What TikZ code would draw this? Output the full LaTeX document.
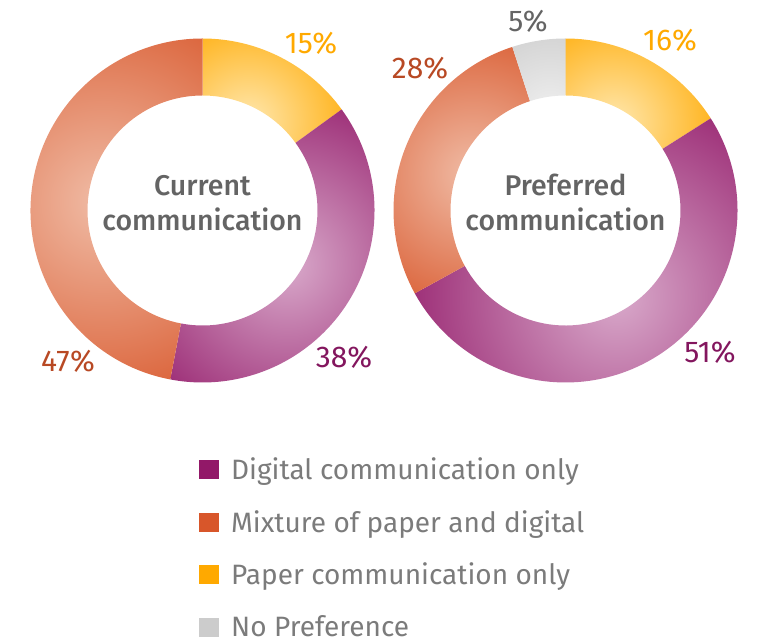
\documentclass[tikz,border=0pt]{standalone}
\usepackage{fontspec}
\setmainfont{Fira Sans}
\IfFontExistsTF{Fira Sans Medium}{\newfontfamily\titlefont{Fira Sans Medium}}{\newfontfamily\titlefont{Fira Sans}}
\usetikzlibrary{calc}

\definecolor{digital}{HTML}{921868}
\definecolor{digitallt}{HTML}{D9AACB}
\definecolor{mixed}{HTML}{D8562A}
\definecolor{mixedlt}{HTML}{F0BCA6}
\definecolor{paper}{HTML}{FFA900}
\definecolor{paperlt}{HTML}{FFE8B0}
\definecolor{nopref}{HTML}{CCCCCC}
\definecolor{nopreflt}{HTML}{EFEFEF}
\definecolor{txtgrey}{HTML}{646464}

% one shaded piece of a ring: centre, start angle, end angle, light, dark, gradient radius
\newcommand{\ringpart}[6]{%
  \begin{scope}
    \clip ($(#1)+(#2:172)$) arc[start angle=#2, end angle=#3, radius=172]
      -- ($(#1)+(#3:115)$) arc[start angle=#3, end angle=#2, radius=115] -- cycle;
    \shade[inner color=#4, outer color=#5] ($(#1)+({(#2+#3)/2}:100)$) circle (#6);
  \end{scope}}

\tikzset{
  pct/.style={anchor=base, font=\fontsize{30}{32}\selectfont},
  title/.style={anchor=base, text=txtgrey, font=\titlefont\fontsize{28.5}{34}\selectfont},
  keybox/.style={minimum width=20, minimum height=19, inner sep=0pt},
  keytext/.style={anchor=base west, inner sep=0pt, text=txtgrey!85!white, font=\fontsize{28}{30}\selectfont}
}

\begin{document}
\begin{tikzpicture}[x=1pt,y=1pt]
    \useasboundingbox (0,0) rectangle (764,640);
    \coordinate (cur) at (202.5,429.5);
    \coordinate (pref) at (565.5,429.5);

    % current
    \ringpart{cur}{90}{36}{paperlt}{paper}{120}
    \ringpart{cur}{36}{-100.8}{digitallt}{digital}{200}
    \ringpart{cur}{-100.8}{-270}{mixedlt}{mixed}{230}
    \node[title] (cur1) at (202.5,444) {Current};
    \node[title] (cur2) at (202.5,409) {communication};
    \node[pct, text=paper] (curpaper) at (311,586) {15\%};
    \node[pct, text=digital!90!black] (curdig) at (344,272) {38\%};
    \node[pct, text=mixed!85!black] (curmix) at (68,268) {47\%};

    % preferred
    \ringpart{pref}{90}{32.4}{paperlt}{paper}{122}
    \ringpart{pref}{32.4}{-151.2}{digitallt}{digital}{245}
    \ringpart{pref}{-151.2}{-252}{mixedlt}{mixed}{165}
    \ringpart{pref}{-252}{-270}{nopreflt}{nopref}{100}
    \node[title] (pref1) at (565.5,444) {Preferred};
    \node[title] (pref2) at (565.5,409) {communication};
    \node[pct, text=paper] (prefpaper) at (670,589) {16\%};
    \node[pct, text=digital!90!black] (prefdig) at (710,277) {51\%};
    \node[pct, text=mixed!85!black] (prefmix) at (420,561) {28\%};
    \node[pct, text=txtgrey] (prefnone) at (528,608) {5\%};

    % key
    \node[keybox, fill=digital] (kdig) at (209,170) {};
    \node[keytext] (tdig) at (231,160) {Digital communication only};
    \node[keybox, fill=mixed] (kmix) at (209,117) {};
    \node[keytext] (tmix) at (231,107) {Mixture of paper and digital};
    \node[keybox, fill=paper] (kpap) at (209,65) {};
    \node[keytext] (tpap) at (231,55) {Paper communication only};
    \node[keybox, fill=nopref] (knone) at (209,12) {};
    \node[keytext] (tnone) at (231,3) {No Preference};
\end{tikzpicture}
\end{document}
